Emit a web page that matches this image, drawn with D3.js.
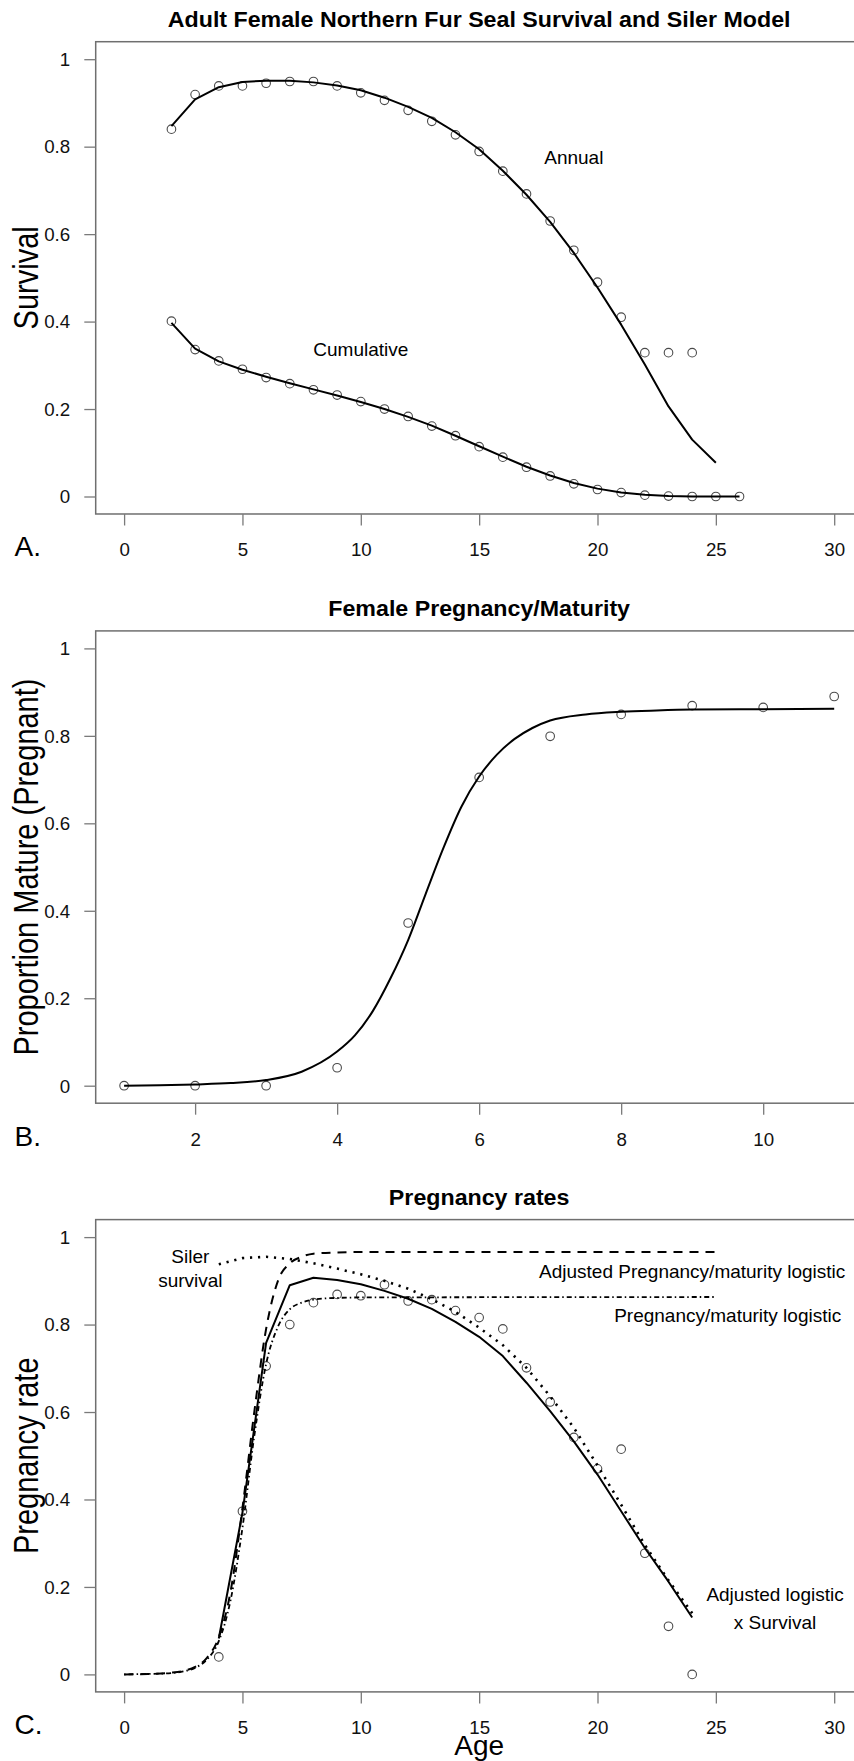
<!DOCTYPE html>
<html>
<head>
<meta charset="utf-8">
<script src="https://cdn.jsdelivr.net/npm/d3@7"></script>
<style>
  html, body { margin: 0; padding: 0; background: #ffffff; }
  svg { display: block; }
</style>
</head>
<body>
<script>
// ---------------- DATA ----------------
// Panel A: survival
const A_obsAges = [2,3,4,5,6,7,8,9,10,11,12,13,14,15,16,17,18,19,20,21,22,23,24];
const A_annualObs = [0.840,0.919,0.939,0.939,0.945,0.949,0.949,0.939,0.923,0.906,0.883,0.858,0.827,0.789,0.744,0.692,0.630,0.563,0.490,0.410,0.329,0.329,0.329];
const A_fitAges = [2,3,4,5,6,7,8,9,10,11,12,13,14,15,16,17,18,19,20,21,22,23,24,25];
const A_annualFit = [0.847,0.908,0.936,0.948,0.951,0.951,0.947,0.940,0.929,0.912,0.891,0.866,0.833,0.794,0.745,0.690,0.628,0.557,0.478,0.393,0.302,0.206,0.130,0.077];
const A_cumAges = [2,3,4,5,6,7,8,9,10,11,12,13,14,15,16,17,18,19,20,21,22,23,24,25,26];
const A_cumObs = [0.401,0.336,0.310,0.291,0.272,0.258,0.244,0.232,0.217,0.200,0.183,0.161,0.139,0.114,0.090,0.067,0.047,0.029,0.016,0.009,0.003,0.001,0,0,0];
const A_cumFit = [0.397,0.338,0.309,0.290,0.274,0.259,0.245,0.231,0.216,0.200,0.182,0.162,0.139,0.115,0.091,0.068,0.048,0.031,0.018,0.009,0.004,0.001,0,0,0];

// Panel B: pregnancy / maturity
const B_obsAges = [1,2,3,4,5,6,7,8,9,10,11];
const B_obs = [0,0,0,0.041,0.372,0.705,0.799,0.849,0.869,0.865,0.890];
const B_fitAges = [1,1.5,2,2.5,3,3.5,4,4.25,4.5,4.75,5,5.25,5.5,5.75,6,6.25,6.5,6.75,7,7.5,8,8.5,9,10,11];
const B_fit = [0,0.001,0.003,0.006,0.013,0.032,0.078,0.115,0.170,0.245,0.333,0.440,0.545,0.638,0.707,0.757,0.793,0.818,0.835,0.849,0.855,0.858,0.860,0.861,0.862];

// Panel C: pregnancy rates
const C_obsAges = [4,5,6,7,8,9,10,11,12,13,14,15,16,17,18,19,20,21,22,23,24];
const C_obs = [0.040,0.373,0.705,0.800,0.850,0.869,0.866,0.891,0.854,0.857,0.832,0.816,0.790,0.701,0.623,0.542,0.470,0.515,0.277,0.110,0.000];
const C_logAges = [0,1,2,2.5,3,3.5,4,4.5,5,5.5,6,6.5,7,7.5,8,9,10,25];
const C_adjLogistic = [0,0.001,0.004,0.008,0.017,0.038,0.085,0.190,0.380,0.600,0.790,0.900,0.940,0.955,0.962,0.965,0.966,0.966];
const C_logistic = [0,0.001,0.003,0.007,0.015,0.034,0.076,0.170,0.335,0.545,0.710,0.795,0.835,0.850,0.857,0.861,0.862,0.863];
const C_survAges = [4,5,6,7,8,9,10,11,12,13,14,15,16,17,18,19,20,21,22,23,24];
const C_siler = [0.938,0.952,0.955,0.950,0.940,0.928,0.915,0.900,0.882,0.858,0.829,0.793,0.753,0.701,0.636,0.564,0.478,0.388,0.296,0.215,0.140];
const C_adjSurv = [0.082,0.370,0.758,0.890,0.907,0.902,0.892,0.877,0.859,0.836,0.806,0.772,0.728,0.667,0.602,0.533,0.457,0.373,0.289,0.212,0.130];

const yTickValues = [0,0.2,0.4,0.6,0.8,1];
const yTickLabels = ["0","0.2","0.4","0.6","0.8","1"];
const A_xTicks = [0,5,10,15,20,25,30];
const B_xTicks = [2,4,6,8,10];
const C_xTicks = [0,5,10,15,20,25,30];

// ---------------- DRAWING ----------------
const FONT = "'Liberation Sans', Arial, Helvetica, sans-serif";
const W = 854, H = 1761;
const svg = d3.select("body").append("svg")
  .attr("width", W).attr("height", H)
  .style("font-family", FONT);

const BOX_COL = "#6f6f6f";
const TICK_COL = "#7a7a7a";
const PT_COL = "#4a4a4a";

function zip(xs, ys) { return xs.map((x, i) => [x, ys[i]]); }

function makePanel(cfg) {
  const off = cfg.yOff;
  const g = svg.append("g");
  const x = d3.scaleLinear().domain(cfg.xDomain).range([124.1, 834.2]);
  const y = d3.scaleLinear().domain([0, 1]).range([496.5 + off, 59.2 + off]);
  const span = cfg.xDomain[1] - cfg.xDomain[0];
  const left = x(cfg.xDomain[0] - 0.04 * span);
  const right = x(cfg.xDomain[1] + 0.04 * span);
  const top = y(1.04), bottom = y(-0.04);

  // box
  g.append("rect")
    .attr("x", left).attr("y", top)
    .attr("width", right - left).attr("height", bottom - top)
    .attr("fill", "none").attr("stroke", BOX_COL).attr("stroke-width", 1.5);

  // x axis
  const xa = g.append("g").attr("transform", `translate(0,${bottom})`)
    .call(d3.axisBottom(x).tickValues(cfg.xTicks).tickSize(11.5).tickFormat(d3.format("d")));
  xa.select(".domain").remove();
  xa.selectAll(".tick line").attr("stroke", TICK_COL).attr("stroke-width", 1.3);
  xa.selectAll(".tick text")
    .attr("y", 0).attr("dy", 0)
    .attr("transform", "translate(0,42.4) scale(1.07,1)")
    .attr("fill", "#111").style("font-size", "17.5px").style("font-family", FONT);

  // y axis
  const ya = g.append("g").attr("transform", `translate(${left},0)`)
    .call(d3.axisLeft(y).tickValues(yTickValues).tickSize(11.4)
      .tickFormat((d, i) => yTickLabels[i]));
  ya.select(".domain").remove();
  ya.selectAll(".tick line").attr("stroke", TICK_COL).attr("stroke-width", 1.3);
  ya.selectAll(".tick text")
    .attr("x", 0).attr("dy", "0.36em")
    .attr("transform", "translate(-25.5,0) scale(1.07,1)")
    .attr("fill", "#111").style("font-size", "17.5px").style("font-family", FONT);

  // title
  g.append("text")
    .attr("transform", `translate(${(left + right) / 2},${top - 14.8}) scale(1.08,1)`)
    .attr("text-anchor", "middle")
    .style("font-weight", "bold").style("font-size", "21.5px")
    .attr("fill", "#000").text(cfg.title);

  // y label
  g.append("text")
    .attr("transform", `translate(37.5,${(y(0) + y(1)) / 2}) rotate(-90) scale(1,1.2)`)
    .attr("text-anchor", "middle")
    .style("font-size", "29px").attr("fill", "#000").text(cfg.ylab);

  // panel letter
  g.append("text")
    .attr("x", 14.5).attr("y", bottom + 42.4)
    .style("font-size", "28px").attr("fill", "#000").text(cfg.letter);

  return { g, x, y, left, right, top, bottom };
}

function drawLine(p, data, opts) {
  const line = d3.line().x(d => p.x(d[0])).y(d => p.y(d[1]))
    .curve(opts.curve || d3.curveLinear);
  const path = p.g.append("path").datum(data)
    .attr("d", line).attr("fill", "none")
    .attr("stroke", "#000").attr("stroke-width", opts.width || 2)
    .attr("stroke-linejoin", "round");
  if (opts.dash) path.attr("stroke-dasharray", opts.dash);
  path.attr("stroke-linecap", opts.cap || "butt");
  return path;
}

function drawPoints(p, data) {
  p.g.append("g").selectAll("circle").data(data).join("circle")
    .attr("cx", d => p.x(d[0])).attr("cy", d => p.y(d[1]))
    .attr("r", 4.3).attr("fill", "none")
    .attr("stroke", PT_COL).attr("stroke-width", 1.1);
}

function label(p, xv, yv, s) {
  p.g.append("text")
    .attr("x", p.x(xv)).attr("y", p.y(yv)).attr("dy", "0.35em")
    .attr("text-anchor", "middle")
    .style("font-size", "19px").attr("fill", "#000").text(s);
}

// ---- Panel A
const pA = makePanel({
  yOff: 0, xDomain: [0, 30], xTicks: A_xTicks,
  title: "Adult Female Northern Fur Seal Survival and Siler Model",
  ylab: "Survival", letter: "A."
});
drawPoints(pA, zip(A_obsAges, A_annualObs));
drawPoints(pA, zip(A_cumAges, A_cumObs));
drawLine(pA, zip(A_fitAges, A_annualFit), { width: 2 });
drawLine(pA, zip(A_cumAges, A_cumFit), { width: 2 });
label(pA, 19.0, 0.776, "Annual");
label(pA, 10.0, 0.336, "Cumulative");

// ---- Panel B
const pB = makePanel({
  yOff: 589.2, xDomain: [1, 11], xTicks: B_xTicks,
  title: "Female Pregnancy/Maturity",
  ylab: "Proportion Mature (Pregnant)", letter: "B."
});
drawPoints(pB, zip(B_obsAges, B_obs));
drawLine(pB, zip(B_fitAges, B_fit), { width: 2, curve: d3.curveMonotoneX });

// ---- Panel C
const pC = makePanel({
  yOff: 1177.9, xDomain: [0, 30], xTicks: C_xTicks,
  title: "Pregnancy rates",
  ylab: "Pregnancy rate", letter: "C."
});
drawPoints(pC, zip(C_obsAges, C_obs));
drawLine(pC, zip(C_logAges, C_adjLogistic), { width: 2, dash: "9,7", curve: d3.curveMonotoneX });
drawLine(pC, zip(C_logAges, C_logistic), { width: 1.8, dash: "1.5,3,5,3", curve: d3.curveMonotoneX });
drawLine(pC, zip(C_survAges, C_siler), { width: 2.6, dash: "2.2,5.8" });
drawLine(pC, zip(C_survAges, C_adjSurv), { width: 2 });
label(pC, 2.8, 0.957, "Siler");
label(pC, 2.8, 0.900, "survival");
label(pC, 24.0, 0.921, "Adjusted Pregnancy/maturity logistic");
label(pC, 25.5, 0.820, "Pregnancy/maturity logistic");
label(pC, 27.5, 0.182, "Adjusted logistic");
label(pC, 27.5, 0.119, "x Survival");

// x axis title for C
svg.append("text")
  .attr("x", (pC.left + pC.right) / 2).attr("y", 1754.5)
  .attr("text-anchor", "middle")
  .style("font-size", "28px").attr("fill", "#000").text("Age");
</script>
</body>
</html>
